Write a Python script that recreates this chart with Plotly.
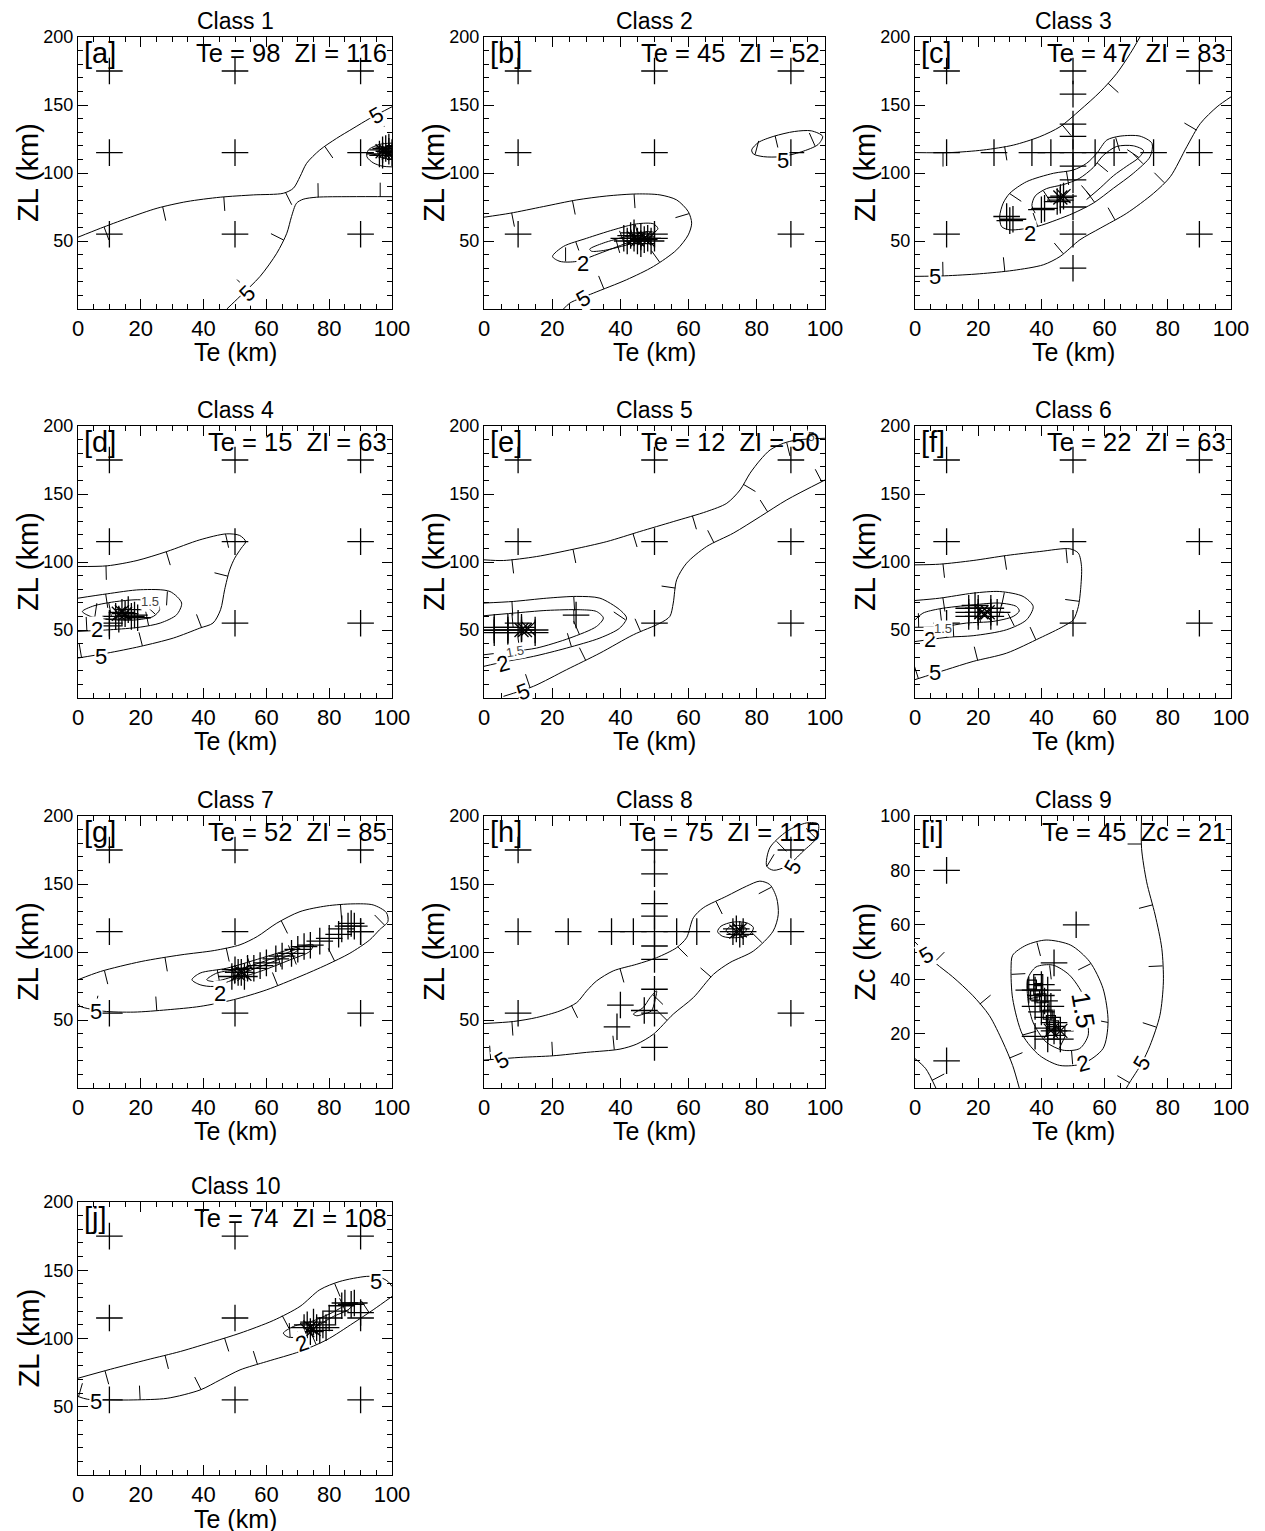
import math
import plotly.graph_objects as go

# ---------------- data ----------------
class_titles = ["Class 1", "Class 2", "Class 3", "Class 4", "Class 5",
                "Class 6", "Class 7", "Class 8", "Class 9", "Class 10"]
panel_tags = ["[a]", "[b]", "[c]", "[d]", "[e]", "[f]", "[g]", "[h]", "[i]", "[j]"]
best_te = [98, 45, 47, 15, 12, 22, 52, 75, 45, 74]
best_z = [116, 52, 83, 63, 50, 63, 85, 115, 21, 108]
z_names = ["ZI", "ZI", "ZI", "ZI", "ZI", "ZI", "ZI", "ZI", "Zc", "ZI"]
y_titles = ["ZL (km)"] * 8 + ["Zc (km)"] + ["ZL (km)"]
y_max = [200, 200, 200, 200, 200, 200, 200, 200, 100, 200]
x_ticks = [0, 20, 40, 60, 80, 100]
y_ticks_zl = [50, 100, 150, 200]
y_ticks_zc = [20, 40, 60, 80, 100]

grid_te = [10, 50, 90]
grid_zl = [55, 115, 175]

# misfit contour lines (Te, Z)
a_c5_upper = [(0, 52.8), (7.2, 59.4), (15.7, 66.7), (25.2, 74.1), (34.7, 79.0), (45.3, 82.2), (55.9, 83.9),
              (65.4, 85.1), (68.6, 88.8), (70.7, 97.3), (72.8, 107.1), (77.0, 116.9), (82.3, 125.4),
              (87.6, 132.8), (92.9, 140.1), (100, 148.7)]
a_c5_lower = [(47.4, 0), (51.6, 9.3), (58, 24), (63.3, 41), (66.5, 55.7), (68, 68), (69.6, 77.8),
              (71.7, 80.7), (76, 82.2), (86.6, 82.6), (100, 82.6)]
a_c2 = [(100, 122), (96, 121), (92.5, 117), (92, 112), (94, 107.5), (97, 105), (100, 104.5)]
a_c15 = [(100, 119.5), (97, 118.5), (95.5, 115.5), (96, 112), (98, 110.5), (100, 110.5)]

b_c5_outer = [(0, 67.5), (7.6, 70.4), (17.4, 75.3), (27.2, 80.2), (36, 83.1), (44.8, 84.6), (51.6, 83.9),
              (56.5, 80.2), (59.9, 71.6), (60.9, 63.1), (59.9, 54.5), (56.5, 43.5), (49.7, 31.3),
              (41.8, 21.5), (32.1, 11.7), (25.2, 4.4), (23.3, 0)]
b_c5_island = [(78.5, 117), (80.5, 122.5), (85, 127), (91, 130.5), (96, 131), (99.3, 127), (98, 121),
               (93, 115.5), (87, 112), (82, 112), (79, 114), (78.5, 117)]
b_c2 = [(20.1, 38.6), (23.3, 46), (30.1, 52), (37.9, 58.2), (44.8, 62.6), (49.7, 62.6), (51, 59),
        (48.7, 54.5), (41.8, 48.4), (34, 41), (27.2, 35), (22.3, 35), (20.1, 38.6)]
b_c15 = [(31, 44), (35, 48.5), (42, 53.5), (48, 57), (50, 56), (47.5, 51.5), (41, 46.5), (35, 43),
         (31.5, 42.5), (31, 44)]

c_c5_upper = [(0, 115), (11, 115), (21.6, 116.9), (31.1, 120.5), (39.5, 126.7), (45.9, 134), (52.2, 146.2),
              (58.6, 159.7), (63.8, 173.1), (68.1, 187.8), (71.2, 200)]
c_c5_lower = [(0, 24), (9.4, 24.4), (20.5, 25.9), (31.1, 28.4), (40.6, 32.5), (45.9, 38.6), (52.2, 50.9),
              (58.6, 59.4), (67, 70.4), (75.5, 85.1), (80.8, 97.3), (86, 119.3), (90.3, 136.4),
              (95.6, 148.7), (100, 156)]
c_c2 = [(30, 58.2), (38.5, 60.6), (44.8, 65.5), (50.1, 70.4), (56.4, 77.8), (62.8, 88.8), (69.1, 99.8),
        (74.4, 112), (75, 121.8), (71.2, 127.1), (64.9, 127.1), (60.7, 124.2), (57.5, 114.4),
        (54.3, 107.1), (50.1, 102.2), (43.8, 99.8), (35.3, 93.6), (30, 85.1), (27.9, 77.8), (26.8, 68),
        (27.4, 60.6), (30, 58.2)]
c_c15 = [(38, 70.5), (37, 76), (38, 83), (41.6, 88.5), (47, 91.5), (52, 96), (56.4, 104), (59.6, 113),
         (63.8, 119.5), (69.1, 120), (72.3, 116.5), (70.7, 111), (67, 105), (62.8, 98), (58.6, 89),
         (54.3, 80.5)]

d_c5 = [(0, 96.7), (9.3, 97.2), (18.8, 101.1), (28.3, 107.7), (38.8, 116.3), (47.3, 120.7), (51.5, 119.5),
        (53.4, 115), (52, 110.2), (49.9, 102.8), (48.3, 94.2), (46.7, 79.6), (45.4, 64.9), (43, 55.1),
        (38.8, 51.4), (30.4, 44.1), (19.8, 37.9), (9.3, 33), (0, 29.4)]
d_c2 = [(0, 73.4), (9.3, 76.6), (19.8, 79.6), (29.3, 78.3), (33, 69.8), (31.4, 61.2), (26.2, 55.1),
        (19.8, 52.1), (10.3, 50.2), (0, 49)]
d_c15 = [(1.4, 63.6), (5.1, 67.8), (12.4, 71), (19.8, 72.2), (25.1, 69.8), (26, 65), (24, 60), (18.8, 57.5),
         (11.4, 57.5), (4, 60), (1.4, 63.6)]

e_c5_upper = [(0, 101.6), (5.7, 101.1), (15.4, 104), (26.2, 109.4), (36, 115), (45.7, 122.4), (55.5, 129.7),
              (65.3, 137.1), (71.2, 143.2), (75.1, 153), (78, 165.2), (81, 175), (83.9, 182.4),
              (87.8, 187.3), (91.7, 189.7), (100, 191)]
e_c5_lower = [(5.7, 1.2), (14.5, 8.6), (24.2, 20.8), (34, 33), (43.8, 46.5), (51.6, 55), (54.5, 60),
              (55.5, 69.8), (56.5, 86.9), (59.4, 99.1), (65.3, 111.4), (73.1, 121.2), (81, 133.4),
              (88.8, 145.7), (100, 160.3)]
e_c2 = [(0, 69.8), (8.6, 71), (18.4, 73.4), (27.2, 74.7), (34, 73.4), (39.8, 64.9), (41.8, 58.8),
        (39.8, 51.4), (34, 44.1), (24.2, 36.7), (14.5, 30.6), (5.7, 26.5), (0, 23.3)]
e_c15 = [(0, 60.5), (8.6, 62.4), (18.4, 64.4), (28.2, 64.9), (33, 63.6), (35, 58.8), (33, 52.6),
         (25.2, 44.1), (15.4, 36.7), (9, 34.5), (0, 31.8)]

f_c5 = [(0, 97.9), (7.8, 98.4), (18.4, 101.1), (29, 104.8), (39.5, 107.7), (49, 109.7), (51.7, 106.5),
        (52.7, 96.7), (52.4, 79.6), (51.7, 67.3), (50.1, 57.5), (46.9, 52.6), (39.5, 44.1), (29, 33),
        (18.4, 26.9), (9.9, 20.8), (0, 13.5)]
f_c2 = [(0, 71.7), (7.8, 73.4), (18.4, 77.1), (26.8, 78.3), (34.2, 74.7), (37.4, 67.3), (35.3, 57.5),
        (29, 50.2), (18.4, 45.8), (11, 44.8), (4.7, 43), (0, 41.5)]
f_c15 = [(0, 57.5), (2.5, 62.4), (7.8, 65.6), (18.4, 68.5), (26.8, 69.8), (32.1, 67.3), (33, 64),
         (31.1, 60), (24.7, 56.3), (16.3, 55.1), (8.9, 52.5), (0, 52)]

g_c5 = [(0, 79.6), (7.2, 85.7), (20.1, 93), (32.8, 97.9), (43.4, 101.1), (51.6, 105.3), (57.1, 111.4),
        (63.3, 121.2), (70.7, 129.7), (79.2, 133.9), (87.6, 135.4), (94, 134.6), (98.2, 129),
        (98.7, 122.4), (96, 116.3), (92.9, 108.9), (86.6, 99.1), (79.2, 90.6), (70.7, 82), (60.1, 72.2),
        (49.5, 64.9), (38.9, 60), (28.4, 57.5), (17.8, 55.8), (8, 56.5), (0.8, 60), (0, 62)]
g_c2 = [(36.3, 79.6), (38.9, 84.5), (47.4, 88.1), (60.1, 96.7), (70.7, 104), (74.9, 105.3), (73.8, 100.4),
        (67.5, 94.2), (58, 85.7), (49.5, 79.6), (43.2, 74.7), (38.9, 75.9), (36.3, 79.6)]
g_c15 = [(41, 79.6), (44.2, 84.5), (51.6, 87.5), (62.2, 95.5), (70.7, 102.8), (68.6, 99.1), (58, 89.3),
         (49.5, 82), (43.2, 78.3), (41, 79.6)]

h_c5 = [(0, 47.4), (8.6, 48.9), (15.4, 51.8), (22.3, 56.7), (27.2, 62.8), (30.1, 71.4), (33, 78.7),
        (37.9, 86.1), (44.8, 91), (50.6, 95.8), (56.5, 103.2), (59.4, 110.5), (61.4, 125.2), (64.3, 132.5),
        (71.2, 141.1), (77, 148.4), (80.9, 152.1), (83.8, 149.6), (85.8, 139.9), (86.3, 127.6),
        (84.8, 115.4), (79, 100.7), (72.1, 92.2), (67.3, 83.6), (61.4, 66.5), (55.5, 54.3), (49.7, 39.6),
        (44.8, 32.3), (39.9, 28.6), (30.1, 26.2), (20.3, 23.7), (10.6, 22.5), (0, 20.5)]
h_c5_island = [(82.9, 163.1), (83.8, 176.5), (88.8, 188.7), (94.6, 194.9), (98, 194.1), (97.5, 183.9),
               (93.6, 174.1), (88.8, 163.1), (84.9, 160.1), (82.9, 163.1)]
h_c5_small = [(43.8, 54.3), (46.7, 59.2), (48.7, 66.5), (50.6, 71.4), (50.1, 64.1), (49.1, 56.7),
              (46.7, 54.3), (44.8, 53.1), (43.8, 54.3)]
h_c2 = [(68.5, 115), (69.5, 119), (73, 122), (77, 121.5), (79, 118), (78, 113), (74, 110.5), (70, 111.5),
        (68.5, 115)]
h_c15 = [(71, 115.5), (72, 118.5), (75, 119.5), (77, 117), (76, 113.5), (73, 112.5), (71, 115.5)]

i_c5_left = [(0, 53.7), (3.4, 49.5), (6.6, 45.8), (11.9, 40.9), (18.2, 34.1), (23.5, 26.7), (27.8, 16.9),
             (30.9, 8.3), (33, 0)]
i_c5_corner = [(0, 10.8), (3.4, 7.1), (6.6, 0)]
i_c5_right = [(71.7, 100), (71.7, 88.1), (73.3, 75.8), (76, 63.6), (78.1, 51.3), (78.6, 39), (77.5, 26.7),
              (74.4, 15.7), (71.7, 9), (68, 2.2), (66.9, 0)]
i_c2 = [(30.9, 48.8), (35.2, 52.5), (41.5, 54.4), (49.3, 52.5), (55.3, 46.4), (59.5, 36.6), (61.1, 24.3),
        (59.5, 14.5), (53.2, 9), (45.8, 8.3), (39.4, 12), (34.1, 19.4), (30.9, 32.9), (30.4, 43.9),
        (30.9, 48.8)]
i_c15 = [(35.7, 40.2), (38.3, 44.5), (43.6, 45.2), (48.9, 41.5), (53.2, 34.1), (54.2, 27), (54.8, 19.4),
         (52.1, 14.5), (46.8, 13.9), (41.5, 16.9), (37.3, 24.3), (35.7, 32.9), (35.7, 40.2)]

j_c5_upper = [(0, 70.9), (10.4, 77.5), (22, 84.4), (32.6, 90.5), (43.2, 97.8), (51.6, 103.9), (62.2, 113.2),
              (70.7, 123.5), (77, 135.7), (83.4, 141.8), (91.9, 145.5), (96, 145), (98.7, 141.8),
              (100, 138.1)]
j_c5_lower = [(100, 130.8), (94, 121), (87.6, 111.2), (79.2, 99), (70.7, 90.5), (60.1, 83.1), (51.6, 77),
              (45.3, 69.7), (38.9, 62.3), (28.4, 56.2), (17.8, 55), (10.4, 55), (3, 55.5), (0, 57.5)]
j_c2 = [(65.4, 103.9), (68.6, 108.8), (75, 113), (81, 119), (86.6, 125.9), (88, 126), (86, 121),
        (81.3, 116.1), (75.9, 108.8), (70.6, 101.5), (67, 101), (65.4, 103.9)]

# contour labels: (text, Te, Z, angle)
a_labels = [("5", 95, 142.5, -30), ("5", 53.8, 11.7, -45)]
b_labels = [("5", 29.1, 8, -30), ("2", 29.1, 33.7, 0), ("5", 87.8, 109.5, 0)]
c_labels = [("5", 6.2, 24, 0), ("2", 36.4, 55.7, 0)]
d_labels = [("5", 7.2, 30.6, 0), ("2", 6.1, 50.2, 0), ("1.5", 23, 71, 0)]
e_labels = [("5", 11.5, 4.9, -20), ("2", 5.7, 25.7, -15), ("1.5", 9.1, 34.3, -10), ("5 ", 96, 192, 0)]
f_labels = [("5", 6.2, 18.4, 0), ("2", 4.7, 42.8, 0), ("1.5", 8.9, 51.4, 0)]
g_labels = [("5", 5.6, 56.3, 0), ("2", 45.3, 69.8, 0)]
h_labels = [("5", 5.2, 20, -30), ("5", 90.7, 162.6, -60)]
i_labels = [("5", 3.4, 48.8, -30), ("2", 53.2, 9, -15), ("1.5", 53.2, 28.6, 80), ("5", 71.7, 9, -60)]
j_labels = [("5", 95, 141.8, 0), ("5", 5.6, 53.8, 0), ("2", 71.2, 96.6, -20)]

# starting models / solutions (+), iteration boxes and best fits (x)
a_cross = [(96, 114), (97, 117), (98, 118), (99, 116), (100, 115), (97, 113), (99, 119)]
a_best = [(98, 116), (97, 116), (99, 115)]
b_cross = [(41, 52), (42, 50), (43, 54), (44, 52), (45, 50), (46, 53), (47, 51), (48, 52), (49, 50),
           (50, 52), (44, 56), (46, 48)]
b_best = [(44, 52), (45, 51), (47, 52), (48, 51)]
c_cross = [(50, 158), (50, 136), (50, 127), (50, 105), (50, 95), (50, 30), (50, 75),
           (25, 115), (37, 115), (43, 115), (57, 115), (63, 115), (75.5, 115),
           (29, 68), (30, 65), (31, 66), (40, 73), (41, 74), (45, 79), (46, 80), (47, 83), (46, 82)]
c_best = [(46, 82), (47, 83)]
d_cross = [(10, 53), (13, 58), (14, 63), (16, 65), (18, 61), (19, 59), (15, 62), (12, 60), (17, 60)]
d_best = [(14, 63), (15, 62), (13, 62)]
e_cross = [(3, 48), (3, 50), (3, 52), (7, 48), (7, 50), (7, 52), (11, 48), (11, 50), (11, 52), (15, 50),
           (15, 48), (27, 61)]
e_best = [(11, 50), (12, 50), (13, 51)]
f_cross = [(17, 60), (17, 63), (17, 66), (20, 60), (20, 63), (20, 66), (24, 60), (24, 63), (24, 66),
           (26, 63), (19, 68)]
f_best = [(21, 63), (22, 62), (23, 63)]
g_cross = [(49, 82), (50, 87), (51, 85), (52, 85), (53, 82), (54, 88), (56, 88), (58, 90), (60, 92),
           (63, 95), (65, 97), (68, 99), (70, 102), (72, 104), (74, 105), (77, 108), (80, 110), (83, 113),
           (84, 117), (86, 119), (87, 121), (88, 119), (90, 115)]
g_best = [(51, 84), (52, 85), (53, 84)]
h_cross = [(50, 157.5), (50, 135.5), (50, 126.4), (50, 104.4), (50, 94.6), (50, 72.6), (50, 29.8),
           (24.7, 115), (37.4, 115), (43.8, 115), (56.5, 115), (62.4, 115),
           (40, 61), (39, 45), (47, 57), (73, 115), (74, 117), (76, 115), (75, 113)]
h_best = [(74, 115), (75, 116)]
i_cross = [(10, 80), (10, 10), (51, 60), (44, 46), (40, 38), (42, 36), (38, 36), (36, 36), (41, 32),
           (43, 30), (40, 28), (42, 26), (44, 24), (42, 22), (44, 21), (46, 21), (42, 18), (46, 18),
           (38, 19), (40, 34), (38, 30)]
i_boxes = [(37, 38), (39, 36), (40, 33), (41, 30), (42, 27), (43, 25), (44, 23), (43, 21), (46, 21),
           (39, 40), (38, 34)]
i_best = [(43, 21), (46, 21)]
j_cross = [(72, 108), (73, 110), (74, 105), (75, 112), (76, 108), (77, 106), (78, 110), (80, 115),
           (82, 120), (84, 124), (85, 126), (87, 125), (88, 126), (90, 119), (79, 108)]
j_best = [(74, 108), (73, 106), (75, 107)]

# ---------------- layout / style ----------------
W, H = 1265, 1531
OFF = 8  # page body margin in the browser
FONT = "Liberation Sans, Arial, Helvetica, sans-serif"
COLS_PX = [(78, 392), (484, 825), (915, 1231)]
ROWS_PX = [(37, 309), (426, 698), (816, 1088), (1202, 1475)]

# (contour, tick side) ; side +1 = right of travel direction on screen
panels = [
    dict(contours=[(a_c5_upper, 1), (a_c5_lower, -1), (a_c2, -1), (a_c15, -1)], labels=a_labels,
         cross=a_cross, best=a_best, boxes=[], grid=True),
    dict(contours=[(b_c5_outer, 1), (b_c5_island, 1), (b_c2, 1), (b_c15, 1)], labels=b_labels,
         cross=b_cross, best=b_best, boxes=[], grid=True),
    dict(contours=[(c_c5_upper, 1), (c_c5_lower, -1), (c_c2, -1), (c_c15, 1)], labels=c_labels,
         cross=c_cross, best=c_best, boxes=[], grid=True),
    dict(contours=[(d_c5, 1), (d_c2, 1), (d_c15, 1)], labels=d_labels, cross=d_cross, best=d_best,
         boxes=[], grid=True),
    dict(contours=[(e_c5_upper, 1), (e_c5_lower, -1), (e_c2, 1), (e_c15, 1)], labels=e_labels,
         cross=e_cross, best=e_best, boxes=[], grid=True),
    dict(contours=[(f_c5, 1), (f_c2, 1), (f_c15, 1)], labels=f_labels, cross=f_cross, best=f_best,
         boxes=[], grid=True),
    dict(contours=[(g_c5, 1), (g_c2, 1), (g_c15, 1)], labels=g_labels, cross=g_cross, best=g_best,
         boxes=[], grid=True),
    dict(contours=[(h_c5, 1), (h_c5_island, 1), (h_c5_small, 1), (h_c2, 1), (h_c15, 1)], labels=h_labels,
         cross=h_cross, best=h_best, boxes=[], grid=True),
    dict(contours=[(i_c5_left, -1), (i_c5_corner, -1), (i_c5_right, 1), (i_c2, 1), (i_c15, 1)],
         labels=i_labels, cross=i_cross, best=i_best, boxes=i_boxes, grid=False),
    dict(contours=[(j_c5_upper, 1), (j_c5_lower, 1), (j_c2, 1)], labels=j_labels, cross=j_cross,
         best=j_best, boxes=[], grid=True),
]


def hachures(pts, side, sx, sy, spacing=62.0, start=28.0, length=14.0):
    P = [(t * sx, -z * sy) for t, z in pts]
    xs, ys = [], []
    target, acc = start, 0.0
    for i in range(len(P) - 1):
        (x0, y0), (x1, y1) = P[i], P[i + 1]
        L = math.hypot(x1 - x0, y1 - y0)
        if L == 0:
            continue
        while target <= acc + L:
            f = (target - acc) / L
            px, py = x0 + f * (x1 - x0), y0 + f * (y1 - y0)
            tx, ty = (x1 - x0) / L, (y1 - y0) / L
            nx, ny = -ty * side, tx * side
            ex, ey = px + nx * length, py + ny * length
            xs += [px / sx, ex / sx, None]
            ys += [-py / sy, -ey / sy, None]
            target += spacing
        acc += L
    return xs, ys


def px_x(x):
    return (x - OFF) / W


def px_y(y):
    return 1 - (y - OFF) / H


fig = go.Figure()
annotations = []

for k, p in enumerate(panels):
    r, c = divmod(k, 3)
    x0, x1 = COLS_PX[c]
    y0, y1 = ROWS_PX[r]
    sfx = "" if k == 0 else str(k + 1)
    xref, yref = "x" + sfx, "y" + sfx
    ymax = y_max[k]
    sx = (x1 - x0) / 100.0
    sy = (y1 - y0) / ymax

    fig.layout["xaxis" + sfx] = dict(
        domain=[px_x(x0), px_x(x1)], anchor=yref, range=[0, 100], tickvals=x_ticks,
        ticks="inside", ticklen=10, tickwidth=1, tickcolor="black",
        minor=dict(dtick=5, tick0=0, ticks="inside", ticklen=5, tickcolor="black", tickwidth=1),
        showline=True, linecolor="black", linewidth=1, mirror="ticks", automargin=False,
        showgrid=False, zeroline=False, tickfont=dict(family=FONT, size=22, color="black"),
        fixedrange=True)
    yt = y_ticks_zc if ymax == 100 else y_ticks_zl
    fig.layout["yaxis" + sfx] = dict(
        domain=[px_y(y1), px_y(y0)], anchor=xref, range=[0, ymax], tickvals=yt,
        ticks="inside", ticklen=10, tickwidth=1, tickcolor="black",
        minor=dict(dtick=(5 if ymax == 100 else 10), tick0=0, ticks="inside", ticklen=5,
                   tickcolor="black", tickwidth=1),
        showline=True, linecolor="black", linewidth=1, mirror="ticks", automargin=False,
        showgrid=False, zeroline=False, tickfont=dict(family=FONT, size=18, color="black"),
        fixedrange=True)

    # contour lines + downhill ticks
    hx, hy = [], []
    for pts, side in p["contours"]:
        fig.add_trace(go.Scatter(x=[q[0] for q in pts], y=[q[1] for q in pts], mode="lines",
                                 line=dict(color="black", width=1, shape="spline", smoothing=0.8),
                                 xaxis=xref, yaxis=yref, showlegend=False, hoverinfo="skip"))
        tx, ty = hachures(pts, side, sx, sy)
        hx += tx
        hy += ty
    fig.add_trace(go.Scatter(x=hx, y=hy, mode="lines", line=dict(color="black", width=1),
                             xaxis=xref, yaxis=yref, showlegend=False, hoverinfo="skip"))

    # crosses
    pts = list(p["cross"])
    if p["grid"]:
        pts = [(t, z) for t in grid_te for z in grid_zl] + pts
    fig.add_trace(go.Scatter(x=[q[0] for q in pts], y=[q[1] for q in pts], mode="markers",
                             marker=dict(symbol="cross-thin", size=19,
                                         line=dict(color="black", width=1.3)),
                             xaxis=xref, yaxis=yref, showlegend=False, hoverinfo="skip"))
    if p["boxes"]:
        fig.add_trace(go.Scatter(x=[q[0] for q in p["boxes"]], y=[q[1] for q in p["boxes"]],
                                 mode="markers",
                                 marker=dict(symbol="square-open", size=9, color="black",
                                             line=dict(color="black", width=1.2)),
                                 xaxis=xref, yaxis=yref, showlegend=False, hoverinfo="skip"))
    fig.add_trace(go.Scatter(x=[q[0] for q in p["best"]], y=[q[1] for q in p["best"]], mode="markers",
                             marker=dict(symbol="x-thin", size=14, line=dict(color="black", width=1.3)),
                             xaxis=xref, yaxis=yref, showlegend=False, hoverinfo="skip"))

    # contour labels
    for txt, lx, ly, ang in p["labels"]:
        if txt == "1.5":
            size = 26 if k == 8 else 13
        elif txt.endswith(" "):
            size = 12
        else:
            size = 22
        annotations.append(dict(x=lx, y=ly, xref=xref, yref=yref, text=txt.strip(), showarrow=False,
                                textangle=ang, bgcolor="white", borderpad=0,
                                font=dict(family=FONT, size=size, color="black" if size > 13 else "#444")))

    cx = px_x((x0 + x1) / 2)
    # title
    annotations.append(dict(x=cx, y=px_y(y0 - 16), xref="paper", yref="paper", text=class_titles[k],
                            showarrow=False, xanchor="center", yanchor="middle",
                            font=dict(family=FONT, size=23, color="black")))
    # panel tag
    annotations.append(dict(x=px_x(x0 + 4), y=px_y(y0 + 16), xref="paper", yref="paper",
                            text=panel_tags[k], showarrow=False, xanchor="left", yanchor="middle",
                            font=dict(family=FONT, size=29, color="black")))
    # best-fit text
    annotations.append(dict(x=px_x(x1 - 3), y=px_y(y0 + 16), xref="paper", yref="paper",
                            text=f"Te = {best_te[k]}&nbsp;&nbsp;{z_names[k]} = {best_z[k]}",
                            showarrow=False, xanchor="right", yanchor="middle",
                            font=dict(family=FONT, size=25.5, color="black")))
    # axis titles
    xt_off = 44 if r == 3 else 43
    annotations.append(dict(x=cx, y=px_y(y1 + xt_off), xref="paper", yref="paper", text="Te (km)",
                            showarrow=False, xanchor="center", yanchor="middle",
                            font=dict(family=FONT, size=25, color="black")))
    annotations.append(dict(x=px_x(x0 - 50), y=px_y((y0 + y1) / 2), xref="paper", yref="paper",
                            text=y_titles[k], showarrow=False, xanchor="center", yanchor="middle",
                            textangle=-90, font=dict(family=FONT, size=29, color="black")))

fig.update_layout(width=W, height=H, autosize=False, margin=dict(l=0, r=0, t=0, b=0, pad=0),
                  paper_bgcolor="white", plot_bgcolor="white", annotations=annotations,
                  font=dict(family=FONT, color="black"))

fig.write_html("out.html")
